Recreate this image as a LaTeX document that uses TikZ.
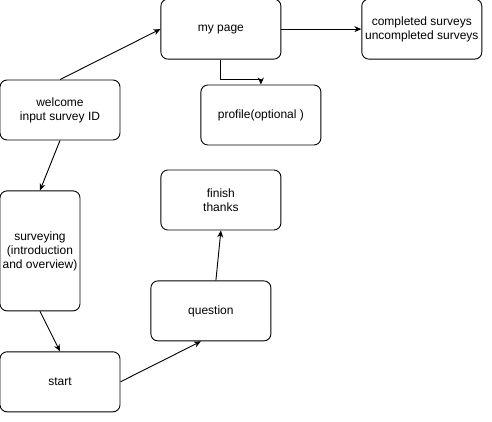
\documentclass[tikz,border=0pt]{standalone}
\usepackage{fontspec}
\setmainfont{Liberation Sans}
\usetikzlibrary{arrows.meta, calc, positioning}
\tikzset{
  svarrow/.style={-{Stealth[length=7pt, width=6pt]}, line width=0.9pt},
  svbox/.style={rectangle, draw, line width=0.9pt, rounded corners=7pt, align=center,
    minimum width=120pt, minimum height=60pt, inner sep=2pt, font=\fontsize{12}{14}\selectfont},
  svtall/.style={svbox, minimum width=80pt, minimum height=120pt},
}

\begin{document}
\begin{tikzpicture}
  \useasboundingbox (0,0) rectangle (492pt,-422pt);

  % Entry and account pages.
  \node[svbox] (welcome) at (60pt,-110pt) {welcome\\input survey ID};
  \node[svbox, above right=20pt and 40pt of welcome] (mypage) {my page};
  \node[svbox, right=80pt of mypage] (surveys) {completed surveys\\uncompleted surveys};
  \node[svbox, below=25pt of mypage, xshift=40pt] (profile) {profile(optional )};

  % Survey flow.
  \node[svtall, below=50pt of welcome, xshift=-20pt] (surveying) {surveying\\(introduction\\and overview)};
  \node[svbox, below=40pt of surveying, xshift=20pt] (start) {start};
  \node[svbox, above right=10pt and 30pt of start] (question) {question};
  \node[svbox, above=50pt of question, xshift=10pt] (finish) {finish\\thanks};

  % Edges.
  \draw[svarrow] (welcome.north) -- (mypage.west);
  \draw[svarrow] (mypage.east) -- (surveys.west);
  \draw[svarrow] (mypage.south) -- ++(0,-20pt) -| (profile.north);
  \draw[svarrow] (welcome.south) -- (surveying.north);
  \draw[svarrow] (surveying.south) -- (start.north);
  \draw[svarrow] (start.east) -- ($(question.south)+(-10pt,0)$);
  \draw[svarrow] ($(question.north)+(5pt,0)$) -- (finish.south);
\end{tikzpicture}
\end{document}
